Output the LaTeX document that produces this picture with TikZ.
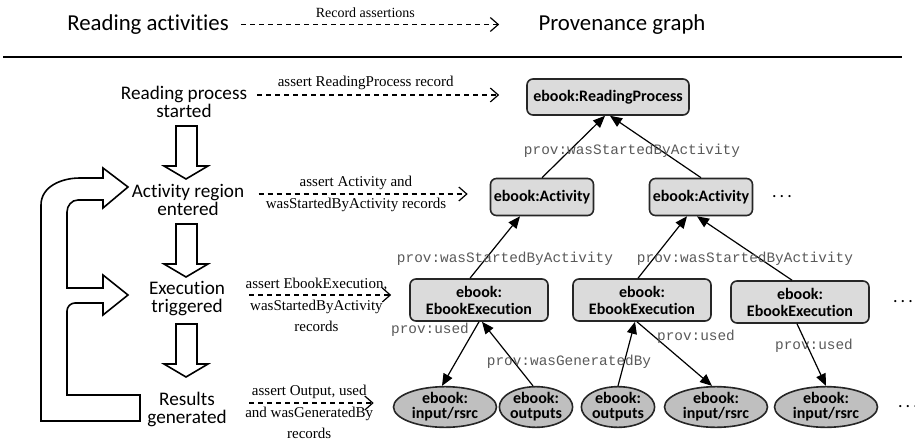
\documentclass[tikz,border=0pt]{standalone}
\usepackage{fontspec}
\setmainfont{Carlito}[Ligatures={NoCommon,NoContextual}]
\newfontfamily\recfont{Liberation Serif}
\newfontfamily\provfont{Liberation Mono}
\usetikzlibrary{shapes,arrows.meta,positioning}
\tikzset{
    %Define standard arrow tip
    >={Triangle[length=6pt,width=5pt]},
    %Define style for the reading steps
    stepbox/.style={
           align=center,
           inner sep=1pt,
           font=\fontsize{9.6}{9}\selectfont},
    headtext/.style={
           inner sep=1pt,
           font=\fontsize{11.4}{13}\selectfont},
    %Define style for boxes
    punkt/.style={
           rectangle,
           rounded corners=3pt,
           draw=black!85,
           thick,
           fill=black!14,
           align=center,
           inner sep=1pt,
           font=\bfseries\fontsize{8}{8.5}\selectfont},
    oval/.style={
           ellipse,
           draw=black!85,
           thick,
           fill=black!25,
           align=center,
           inner sep=0pt,
           minimum height=20pt,
           font=\bfseries\fontsize{8}{7.5}\selectfont},
    % Define arrow styles
    rec/.style={
           dashed,
           dash pattern=on 2.5pt off 2pt,
           semithick,
           -{Straight Barb[length=4pt,width=7pt]}},
    reclabel/.style={
           align=center,
           inner sep=1pt,
           font=\recfont\fontsize{7.5}{10.6}\selectfont},
    provlabel/.style={
           inner sep=0pt,
           text=black!65,
           font=\provfont\fontsize{7.2}{8}\selectfont},
    pil/.style={
           ->,
           semithick},
    blk/.style={
           draw,
           thick,
           fill=white}
}
\begin{document}
\begin{tikzpicture}[x=0.5pt, y=-0.5pt]
 \useasboundingbox (0,0) rectangle (915,444);
 % header
 \node[headtext] (acttitle) at (148,24.5) {Reading activities};
 \node[headtext] (provtitle) at (622,24.5) {Provenance graph};
 \draw[rec, shorten <=5pt, shorten >=18.5pt] (acttitle.east) -- node[reclabel, above=2pt, pos=0.44, font=\recfont\fontsize{7}{8}\selectfont] {Record assertions} (provtitle.west);
 \draw[thick] (3,57) -- (902,57);

 % reading activities
 \node[stepbox] (rp) at (184,102) {Reading process\\started};
 \node[stepbox, below of=rp, node distance=49pt, xshift=2pt] (ar) {Activity region\\entered};
 \node[stepbox, below of=ar, node distance=49.5pt, xshift=-0.5pt] (et) {Execution\\triggered};
 \node[stepbox, below of=et, node distance=55pt] (rg) {Results\\generated};

 % block arrows between the steps
 \foreach \y in {126,224,324}
   \draw[blk] (176,\y) -- ++(0,40) -- ++(-12,0) -- (186,\y+53) -- (208,\y+40) -- ++(-11,0) -- ++(0,-40) -- cycle;

 % feedback loop
 \draw[blk] (140,421) -- (41,421) -- (41,205) to[out=90,in=180] (80,178) -- (103,178)
   -- (103,168) -- (128,187) -- (103,208) -- (103,200) -- (78,200) to[out=180,in=90] (67,212)
   -- (67,288) -- (103,288) -- (103,275) -- (128,295) -- (103,315) -- (103,303)
   -- (75,303) to[out=180,in=90] (67,311) -- (67,395) -- (140,395) -- cycle;

 % provenance graph
 \node[punkt, minimum width=81pt, minimum height=18pt] (readproc) at (608,97) {ebook:ReadingProcess};
 \node[punkt, minimum width=51.5pt, minimum height=18.5pt] (act1) at (542,197) {ebook:Activity};
 \node[punkt, minimum width=51.5pt, minimum height=18.5pt, right of=act1, node distance=79.5pt] (act2) {ebook:Activity};
 \node[right of=act2, node distance=40.5pt, font=\fontsize{9}{9}\selectfont] (actdots) {.\,.\,.};

 \node[punkt, minimum width=69pt, minimum height=21pt] (exec1) at (479,300) {ebook:\\EbookExecution};
 \node[punkt, minimum width=69pt, minimum height=21pt, right of=exec1, node distance=81.5pt] (exec2) {ebook:\\EbookExecution};
 \node[punkt, minimum width=69pt, minimum height=21pt] (exec3) at (800,302) {ebook:\\EbookExecution};
 \node[right of=exec3, node distance=51.5pt, font=\fontsize{9}{9}\selectfont] (execdots) {.\,.\,.};

 \node[oval, minimum width=51.5pt] (in1) at (445,407) {ebook:\\input/rsrc};
 \node[oval, minimum width=36pt] (out1) at (536,407) {ebook:\\outputs};
 \node[oval, minimum width=36pt] (out2) at (618,407) {ebook:\\outputs};
 \node[oval, minimum width=51.5pt] (in2) at (716,407) {ebook:\\input/rsrc};
 \node[oval, minimum width=51.5pt] (in3) at (826,407) {ebook:\\input/rsrc};
 \node[right of=in3, node distance=41pt, font=\fontsize{9}{9}\selectfont] (ovaldots) {.\,.\,.};

 % record assertions
 \draw[rec, shorten <=4pt, shorten >=13.5pt] ([yshift=3.5pt]rp.east) -- node[reclabel, above=1.5pt, pos=0.42] {assert ReadingProcess record} ([yshift=3.5pt]rp.east -| readproc.west);
 \draw[rec, shorten <=6pt, shorten >=11pt] ([yshift=3pt]ar.east) -- node[reclabel, pos=0.45] {assert Activity and\\wasStartedByActivity records} ([yshift=3pt]ar.east -| act1.west);
 \draw[rec, shorten <=11pt, shorten >=9pt] ([yshift=2pt]et.east) -- node[reclabel, pos=0.49, yshift=-5pt] {assert EbookExecution,\\wasStartedByActivity\\records} ([yshift=2pt]et.east -| exec1.west);
 \draw[rec, shorten <=10pt, shorten >=9.5pt] ([yshift=3pt]rg.east) -- node[reclabel, pos=0.49, yshift=-4.5pt] {assert Output, used\\and wasGeneratedBy\\records} ([yshift=3pt]rg.east -| in1.west);

 % relations
 \draw[pil] (act1.north) -- ([xshift=-1.5pt]readproc.south);
 \draw[pil] (act2.north) -- ([xshift=1pt]readproc.south);
 \draw[pil] ([xshift=-4.5pt]exec1.north) -- ([xshift=-11pt]act1.south);
 \draw[pil] ([xshift=-2pt]exec2.north) -- ([xshift=-7pt]act2.south);
 \draw[pil] ([xshift=-4pt]exec3.north) -- ([xshift=-2pt]act2.south);
 \draw[pil] (exec1.south) -- ([xshift=-1.5pt]in1.north);
 \draw[pil] ([xshift=-1.5pt]out1.north) -- ([xshift=1.5pt]exec1.south);
 \draw[pil] (out2.north) -- ([xshift=-3.5pt]exec2.south);
 \draw[pil] ([xshift=-2.5pt]exec2.south) -- ([xshift=-2pt]in2.north);
 \draw[pil] ([xshift=-1.5pt]exec3.south) -- (in3.north);

 % relation labels
 \node[provlabel] (startlab1) at (632,151) {prov:wasStartedByActivity};
 \node[provlabel] (startlab2) at (505,259) {prov:wasStartedByActivity};
 \node[provlabel] (startlab3) at (745,259) {prov:wasStartedByActivity};
 \node[provlabel] (usedlab1) at (430,330) {prov:used};
 \node[provlabel] (genlab) at (569,362) {prov:wasGeneratedBy};
 \node[provlabel] (usedlab2) at (696,337) {prov:used};
 \node[provlabel] (usedlab3) at (814,346) {prov:used};
\end{tikzpicture}
\end{document}
